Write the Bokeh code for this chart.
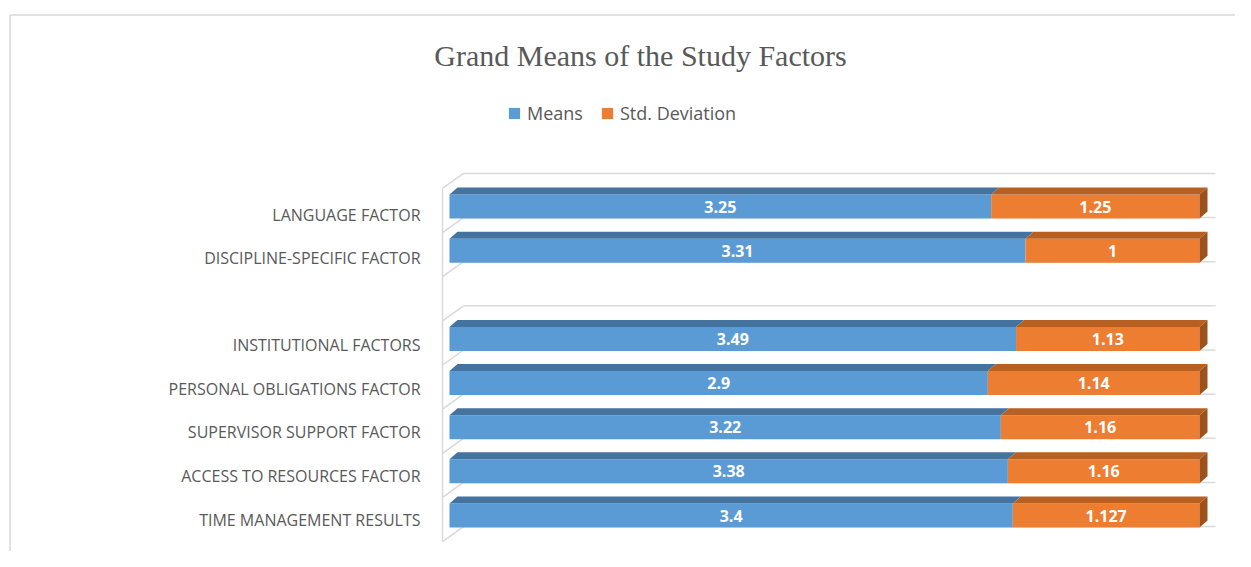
from bokeh.plotting import figure
from bokeh.models import Range1d, Legend, LegendItem, ColumnDataSource
from bokeh.core.properties import value
from bokeh.embed import file_html
from bokeh.resources import INLINE

# ---- data (bottom to top) ----
categories = ["TIME MANAGEMENT RESULTS", "ACCESS TO RESOURCES FACTOR",
              "SUPERVISOR SUPPORT FACTOR", "PERSONAL OBLIGATIONS FACTOR",
              "INSTITUTIONAL FACTORS", "", "DISCIPLINE-SPECIFIC FACTOR",
              "LANGUAGE FACTOR"]
means = [3.4, 3.38, 3.22, 2.9, 3.49, None, 3.31, 3.25]
stds = [1.127, 1.16, 1.16, 1.14, 1.13, None, 1, 1.25]
series_names = ["Means", "Std. Deviation"]
title_text = "Grand Means of the Study Factors"

# ---- page geometry helpers (layout only) ----
W, H = 1235, 551
X0, XW = 449.0, 750.0     # x pixel of 0% and width of 100%
Y0, YP = 515.0, 44.14     # y pixel of row 0 centre and row pitch


def fx(px):
    return (px - X0) / XW


def fy(py):
    return (Y0 - py) / YP


p = figure(width=W, height=H, output_backend="svg", toolbar_location=None,
           x_range=Range1d(fx(0), fx(W)), y_range=Range1d(fy(H), fy(0)),
           x_axis_location=None, y_axis_location=None, min_border=0,
           background_fill_color="white", border_fill_color="white")
p.grid.visible = False
p.outline_line_color = None

GRID = "#D9D9D9"
# chart area border
p.line([fx(9.5), fx(1260)], [fy(14.5), fy(14.5)], line_color=GRID, line_width=1.5)
p.line([fx(9.5), fx(9.5)], [fy(14.5), fy(580)], line_color=GRID, line_width=1.5)

# 3D walls / gridlines at category boundaries
n = len(categories)
bx0, bx1 = fx(463), fx(1215)
wx = fx(442)
back = 11 / YP
front = 4 / YP
for k in range(n + 1):
    b = k - 0.5
    p.line([bx0, bx1], [b + back, b + back], line_color=GRID, line_width=1.5)
    p.line([wx, bx0], [b - front, b + back], line_color=GRID, line_width=1.5)
p.line([wx, wx], [-0.5 - front, n - 0.5 - front], line_color=GRID, line_width=1.5)

# ---- bars ----
rows, fm, fs_end, mean_lbl, std_lbl, mx, sx = [], [], [], [], [], [], []
for i, (m, s) in enumerate(zip(means, stds)):
    if m is None:
        continue
    f = m / (m + s)
    rows.append(i)
    fm.append(f)
    fs_end.append(1.0)
    mean_lbl.append(f"{m:g}")
    std_lbl.append(f"{s:g}")
    mx.append(f / 2)
    sx.append((f + 1) / 2)

src = ColumnDataSource(dict(y=rows, zero=[0.0] * len(rows), fm=fm, one=fs_end,
                            mean_lbl=mean_lbl, std_lbl=std_lbl, mx=mx, sx=sx))

h = 12 / YP
dx, dy = 8 / XW, 7 / YP
BLUE, BLUE_TOP = "#5B9BD5", "#44739F"
ORANGE, ORANGE_TOP, ORANGE_SIDE = "#ED7D31", "#B85F22", "#9C521D"

r_mean = p.hbar(y="y", left="zero", right="fm", height=2 * h, source=src,
                fill_color=BLUE, line_color=None)
r_std = p.hbar(y="y", left="fm", right="one", height=2 * h, source=src,
               fill_color=ORANGE, line_color=None)

bt_x, bt_y, ot_x, ot_y, os_x, os_y = [], [], [], [], [], []
for r, f in zip(rows, fm):
    t = r + h
    bt_x.append([0, f, f + dx, dx])
    bt_y.append([t, t, t + dy, t + dy])
    ot_x.append([f, 1, 1 + dx, f + dx])
    ot_y.append([t, t, t + dy, t + dy])
    os_x.append([1, 1, 1 + dx, 1 + dx])
    os_y.append([r - h, t, t + dy, r - h + dy])
p.patches(bt_x, bt_y, fill_color=BLUE_TOP, line_color=None)
p.patches(ot_x, ot_y, fill_color=ORANGE_TOP, line_color=None)
p.patches(os_x, os_y, fill_color=ORANGE_SIDE, line_color=None)

# data labels
for col, xcol in (("mean_lbl", "mx"), ("std_lbl", "sx")):
    p.text(x=xcol, y="y", text=col, source=src, text_color="white",
           text_font=value("Open Sans"), text_font_style="bold",
           text_font_size="16px", text_align="center", text_baseline="middle")

# category labels
lab_y = [i - (4 + 4 * i / 7) / YP for i in range(n)]
p.text(x=[fx(420)] * n, y=lab_y, text=categories, text_color="#595959",
       text_font=value("Open Sans"), text_font_size="16px",
       text_align="right", text_baseline="middle")

# title
p.text(x=[fx(640)], y=[fy(55)], text=[title_text], text_color="#595959",
       text_font=value("Liberation Serif"), text_font_size="30px",
       text_align="center", text_baseline="alphabetic")

# legend
legend = Legend(items=[LegendItem(label=series_names[0], renderers=[r_mean]),
                       LegendItem(label=series_names[1], renderers=[r_std])],
                orientation="horizontal", location=(507, 426),
                glyph_width=14, glyph_height=14, label_standoff=6, spacing=17,
                padding=0, margin=0, border_line_color=None,
                background_fill_alpha=0, label_text_color="#595959",
                label_text_font="Open Sans", label_text_font_size="18px")
p.add_layout(legend, "center")

open("out.html", "w").write(file_html(p, INLINE))
